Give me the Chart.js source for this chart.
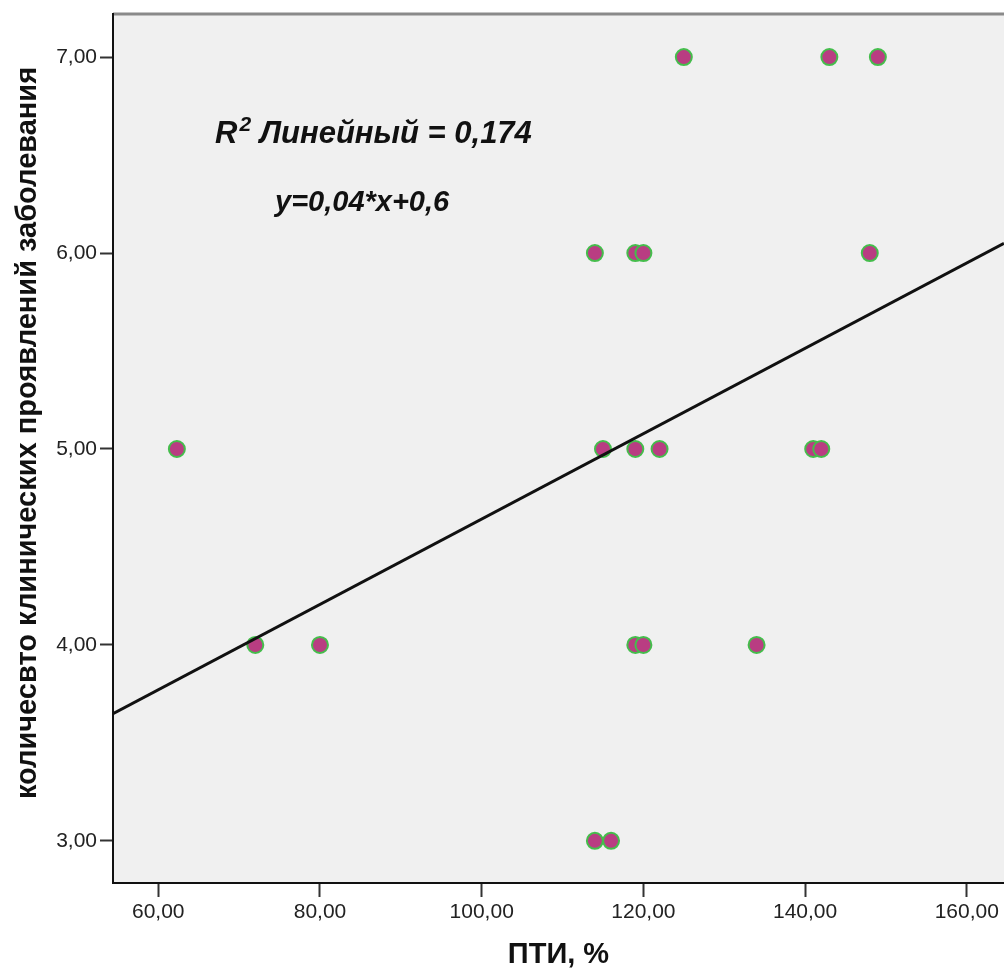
<!DOCTYPE html>
<html>
<head>
<meta charset="utf-8">
<script src="https://cdn.jsdelivr.net/npm/chart.js@4"></script>
<style>
html,body{margin:0;padding:0;background:#fff;}
#wrap{width:1004px;height:972px;}
</style>
</head>
<body>
<div id="wrap"><canvas id="c" width="1004" height="972"></canvas></div>
<script>
// ---- data ----
const ptiValues      = [125, 143, 149, 114, 119, 120, 148, 62.3, 115, 119, 122, 141, 142, 72, 80, 119, 120, 134, 114, 116];
const symptomCounts  = [7,   7,   7,   6,   6,   6,   6,   5,    5,   5,   5,   5,   5,   4,  4,  4,   4,   4,   3,   3];
const xTickValues = [60, 80, 100, 120, 140, 160];
const xTickLabels = ['60,00', '80,00', '100,00', '120,00', '140,00', '160,00'];
const yTickValues = [3, 4, 5, 6, 7];
const yTickLabels = ['3,00', '4,00', '5,00', '6,00', '7,00'];
const xTitle = 'ПТИ, %';
const yTitle = 'количесвто клинических проявлений заболевания';
const fitLabelMain = 'R';
const fitLabelSup = '2';
const fitLabelRest = ' Линейный = 0,174';
const fitEquation = 'y=0,04*x+0,6';
const xRange = [54.4, 164.6];
const yRange = [2.785, 7.22];

// ---- least-squares fit line from the points ----
const n = ptiValues.length;
const mx = ptiValues.reduce((a, b) => a + b, 0) / n;
const my = symptomCounts.reduce((a, b) => a + b, 0) / n;
let sxy = 0, sxx = 0;
for (let i = 0; i < n; i++) {
  sxy += (ptiValues[i] - mx) * (symptomCounts[i] - my);
  sxx += (ptiValues[i] - mx) * (ptiValues[i] - mx);
}
const slope = sxy / sxx;
const intercept = my - slope * mx;
const fitLine = xRange.map(x => ({ x: x, y: intercept + slope * x }));
const points = ptiValues.map((x, i) => ({ x: x, y: symptomCounts[i] }));

const FAMILY = '"Liberation Sans", Arial, sans-serif';

const bgPlugin = {
  id: 'bg',
  beforeDraw(chart) {
    const { ctx, chartArea: a } = chart;
    ctx.save();
    ctx.fillStyle = '#ffffff';
    ctx.fillRect(0, 0, chart.width, chart.height);
    ctx.fillStyle = '#f0f0f0';
    ctx.fillRect(a.left, a.top, a.right - a.left, a.bottom - a.top);
    ctx.strokeStyle = '#8a8a8a';
    ctx.lineWidth = 3;
    ctx.beginPath();
    ctx.moveTo(a.left, a.top);
    ctx.lineTo(a.right, a.top);
    ctx.stroke();
    ctx.restore();
  }
};

const notePlugin = {
  id: 'notes',
  afterDraw(chart) {
    const ctx = chart.ctx;
    ctx.save();
    ctx.fillStyle = '#111';
    ctx.textBaseline = 'alphabetic';
    ctx.textAlign = 'left';
    let x = 215, y = 143;
    ctx.font = 'italic bold 31px ' + FAMILY;
    ctx.fillText(fitLabelMain, x, y);
    x += ctx.measureText(fitLabelMain).width + 2;
    ctx.font = 'italic bold 21px ' + FAMILY;
    ctx.fillText(fitLabelSup, x, y - 12);
    x += ctx.measureText(fitLabelSup).width;
    ctx.font = 'italic bold 31px ' + FAMILY;
    ctx.fillText(fitLabelRest, x, y);
    ctx.font = 'italic bold 29px ' + FAMILY;
    ctx.fillText(fitEquation, 275, 211);
    // y-axis title
    ctx.translate(28, 433);
    ctx.rotate(-Math.PI / 2);
    ctx.textAlign = 'center';
    ctx.textBaseline = 'middle';
    ctx.font = 'bold 29px ' + FAMILY;
    ctx.fillText(yTitle, 0, 0);
    ctx.restore();
  }
};

new Chart(document.getElementById('c'), {
  type: 'scatter',
  data: {
    datasets: [
      {
        type: 'line',
        data: fitLine,
        borderColor: '#111111',
        borderWidth: 3,
        pointRadius: 0,
        fill: false,
        tension: 0
      },
      {
        data: points,
        backgroundColor: '#b93d82',
        borderColor: '#45bd4c',
        borderWidth: 2,
        pointRadius: 8,
        pointHoverRadius: 8
      }
    ]
  },
  options: {
    responsive: false,
    animation: false,
    devicePixelRatio: 1,
    events: [],
    layout: { autoPadding: false, padding: { top: 14, right: 0, bottom: 0, left: 0 } },
    plugins: { legend: { display: false }, tooltip: { enabled: false } },
    scales: {
      x: {
        type: 'linear',
        min: xRange[0],
        max: xRange[1],
        afterBuildTicks: s => { s.ticks = xTickValues.map(v => ({ value: v })); },
        afterFit: s => { s.height = 89; s.paddingLeft = 0; s.paddingRight = 0; },
        ticks: {
          callback: v => xTickLabels[xTickValues.indexOf(v)],
          font: { family: FAMILY, size: 21 },
          color: '#222',
          padding: 3,
          maxRotation: 0,
          autoSkip: false
        },
        grid: { display: true, drawOnChartArea: false, drawTicks: true, tickLength: 14, tickColor: '#333', tickWidth: 2 },
        border: { display: true, color: '#111', width: 2 },
        title: { display: true, text: xTitle, color: '#111', font: { family: FAMILY, size: 29, weight: 'bold' }, padding: { top: 0, bottom: 0 } }
      },
      y: {
        type: 'linear',
        min: yRange[0],
        max: yRange[1],
        afterBuildTicks: s => { s.ticks = yTickValues.map(v => ({ value: v })); },
        afterFit: s => { s.width = 113; s.paddingTop = 0; s.paddingBottom = 0; },
        ticks: {
          callback: v => yTickLabels[yTickValues.indexOf(v)],
          font: { family: FAMILY, size: 21 },
          color: '#222',
          padding: 3,
          autoSkip: false
        },
        grid: { display: true, drawOnChartArea: false, drawTicks: true, tickLength: 13, tickColor: '#333', tickWidth: 2 },
        border: { display: true, color: '#111', width: 2 },
        title: { display: false }
      }
    }
  },
  plugins: [bgPlugin, notePlugin]
});
</script>
</body>
</html>
